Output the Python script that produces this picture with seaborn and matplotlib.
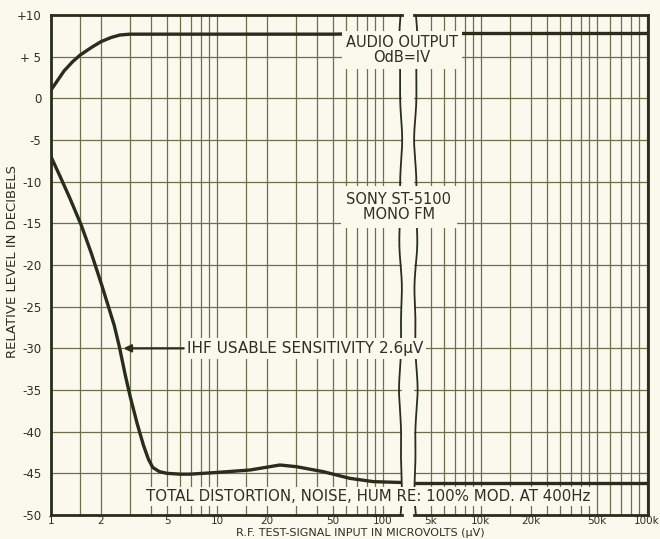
import numpy as np
import pandas as pd
import matplotlib
matplotlib.use("Agg")
import matplotlib.pyplot as plt
import matplotlib.transforms as mtransforms
import seaborn as sns

# ---------------- data ----------------
audio_uv_low = [1, 1.1, 1.2, 1.35, 1.5, 1.75, 2.0, 2.3, 2.6, 3.0, 4, 6, 10, 20, 50, 100, 130]
audio_db_low = [1.0, 2.2, 3.3, 4.4, 5.2, 6.1, 6.8, 7.3, 7.6, 7.7, 7.7, 7.7, 7.7, 7.7, 7.7, 7.8, 7.8]
dist_uv_low = [1, 1.13, 1.3, 1.52, 1.75, 2.02, 2.21, 2.4, 2.58, 2.8, 3.0, 3.3, 3.6, 3.86,
               4.1, 4.5, 5.0, 6.0, 6.87, 9.9, 15.8, 23.9, 30, 43.6, 63, 87.6, 130]
dist_db_low = [-7.0, -9.3, -12.0, -15.2, -18.6, -22.4, -24.9, -27.2, -29.8, -33.2, -35.8,
               -39.0, -41.6, -43.3, -44.3, -44.8, -45.0, -45.1, -45.1, -44.9, -44.6, -44.0,
               -44.2, -44.8, -45.6, -46.0, -46.1]
audio_uv_high = [3960, 10000, 50000, 101800]
audio_db_high = [7.8, 7.8, 7.8, 7.8]
dist_uv_high = [3960, 10000, 50000, 101800]
dist_db_high = [-46.1, -46.1, -46.1, -46.1]

low_major = [1, 2, 5, 10, 20, 50, 100]
low_major_labels = ["1", "2", "5", "10", "20", "50", "100"]
low_minor = [1.5, 3, 4, 6, 7, 8, 9, 15, 30, 40, 60, 70, 80, 90]
high_major = [5000, 10000, 20000, 50000, 100000]
high_major_labels = ["5k", "10k", "20k", "50k", "100k"]
high_minor = [6000, 7000, 8000, 9000, 15000, 25000, 30000, 35000, 40000, 45000,
              60000, 70000, 80000, 90000]
db_ticks = [10, 5, 0, -5, -10, -15, -20, -25, -30, -35, -40, -45, -50]
db_labels = ["+10", "+ 5", "0", "-5", "-10", "-15", "-20", "-25", "-30", "-35", "-40", "-45", "-50"]

sensitivity_uv = 2.6
sensitivity_db = -30

title_audio = "AUDIO OUTPUT\nOdB=IV"
title_model = "SONY ST-5100\nMONO FM"
label_ihf = "IHF USABLE SENSITIVITY 2.6\u00b5V"
label_dist = "TOTAL DISTORTION, NOISE, HUM RE: 100% MOD. AT 400Hz"
xlabel = "R.F. TEST-SIGNAL INPUT IN MICROVOLTS (\u00b5V)"
ylabel = "RELATIVE LEVEL IN DECIBELS"

df_audio_low = pd.DataFrame({"uv": audio_uv_low, "db": audio_db_low})
df_dist_low = pd.DataFrame({"uv": dist_uv_low, "db": dist_db_low})
df_audio_high = pd.DataFrame({"uv": audio_uv_high, "db": audio_db_high})
df_dist_high = pd.DataFrame({"uv": dist_uv_high, "db": dist_db_high})

# ---------------- style ----------------
BG = "#fbf9ee"
GRID = "#6e7048"
INK = "#2b2c1c"
TXT = "#2e2e22"

sns.set_theme(style="white", rc={"axes.facecolor": BG, "figure.facecolor": BG})
plt.rcParams["font.family"] = ["DejaVu Sans"]

W, H = 660, 539
fig = plt.figure(figsize=(W / 100, H / 100), dpi=100)

top_px, bot_px = 15, 515
ax1 = fig.add_axes([51 / W, (H - bot_px) / H, (402 - 51) / W, (bot_px - top_px) / H])
ax2 = fig.add_axes([414 / W, (H - bot_px) / H, (648 - 414) / W, (bot_px - top_px) / H])
ax1.set_zorder(3)
ax2.set_zorder(2)

for ax in (ax1, ax2):
    ax.set_xscale("log")
    ax.set_ylim(-50, 10)
    ax.set_yticks(db_ticks)
    ax.grid(True, which="both", axis="both", color=GRID, linewidth=0.9)
    ax.set_axisbelow(True)
    ax.tick_params(which="both", length=0)
    for s in ax.spines.values():
        s.set_color(INK)
        s.set_linewidth(2.0)

ax1.set_xlim(1, 130)
ax2.set_xlim(3960, 101800)

sns.lineplot(data=df_audio_low, x="uv", y="db", ax=ax1, color=INK, linewidth=2.4)
sns.lineplot(data=df_dist_low, x="uv", y="db", ax=ax1, color=INK, linewidth=2.4)
sns.lineplot(data=df_audio_high, x="uv", y="db", ax=ax2, color=INK, linewidth=2.4)
sns.lineplot(data=df_dist_high, x="uv", y="db", ax=ax2, color=INK, linewidth=2.4)

ax1.set_xticks(low_major)
ax1.set_xticklabels(low_major_labels)
ax1.set_xticks(low_minor, minor=True)
ax1.set_xticklabels([], minor=True)
ax2.set_xticks(high_major)
ax2.set_xticklabels(high_major_labels)
ax2.set_xticks(high_minor, minor=True)
ax2.set_xticklabels([], minor=True)

ax1.set_yticklabels(db_labels)
ax2.set_yticklabels([])
ax1.tick_params(axis="y", pad=7, labelsize=8.5, labelcolor=TXT)
ax1.tick_params(axis="x", pad=1, labelsize=7.5, labelcolor=TXT)
ax2.tick_params(axis="x", pad=1, labelsize=7.5, labelcolor=TXT)
for ax in (ax1, ax2):
    ax.set_xlabel("")
    ax.set_ylabel("")

ax1.spines["right"].set_visible(False)
ax2.spines["left"].set_visible(False)

# broken-axis squiggles (decoration)
t = np.linspace(0, 1, 200)
wave = np.sin(t * 2 * np.pi * 3.0) * 0.5 + np.sin(t * 2 * np.pi * 7.0) * 0.25
ax1.plot(1 - 0.004 + 0.006 * wave, t, transform=ax1.transAxes, color=INK,
         linewidth=1.3, clip_on=False, zorder=5)
ax2.plot(0.008 + 0.010 * wave[::-1], t, transform=ax2.transAxes, color=INK,
         linewidth=1.3, clip_on=False, zorder=5)

# annotations
fig_y = mtransforms.blended_transform_factory(fig.transFigure, ax1.transData)

def bx(pad):
    return dict(boxstyle=f"square,pad={pad}", facecolor=BG, edgecolor="none")

ax1.text(402 / W, 5.8, title_audio, transform=fig_y, ha="center", va="center",
         fontsize=10.5, color=TXT, linespacing=1.0, bbox=bx(0.3), zorder=10, clip_on=False)
ax1.text(399 / W, -13.05, title_model, transform=fig_y, ha="center", va="center",
         fontsize=10.5, color=TXT, linespacing=1.0, bbox=bx(0.4), zorder=10, clip_on=False)
ax1.text(187 / W, sensitivity_db, label_ihf, transform=fig_y, ha="left", va="center",
         fontsize=11, color=TXT, bbox=bx(0.2), zorder=10, clip_on=False)
ax1.annotate("", xy=(sensitivity_uv * 1.05, sensitivity_db), xytext=(6.3, sensitivity_db),
             arrowprops=dict(arrowstyle="-|>", color=INK, lw=1.6, mutation_scale=11,
                             shrinkA=0, shrinkB=0), zorder=10)
ax1.text(368 / W, -47.75, label_dist, transform=fig_y, ha="center", va="center",
         fontsize=10.8, color=TXT, bbox=bx(0.12), zorder=10, clip_on=False)

fig.text(360 / W, (H - 533.5) / H, xlabel, ha="center", va="center", fontsize=8, color=TXT)
fig.text(13 / W, (H - 262) / H, ylabel, ha="center", va="center", rotation=90,
         fontsize=9.5, color=TXT)

fig.savefig("out.png", dpi=100, facecolor=BG)
